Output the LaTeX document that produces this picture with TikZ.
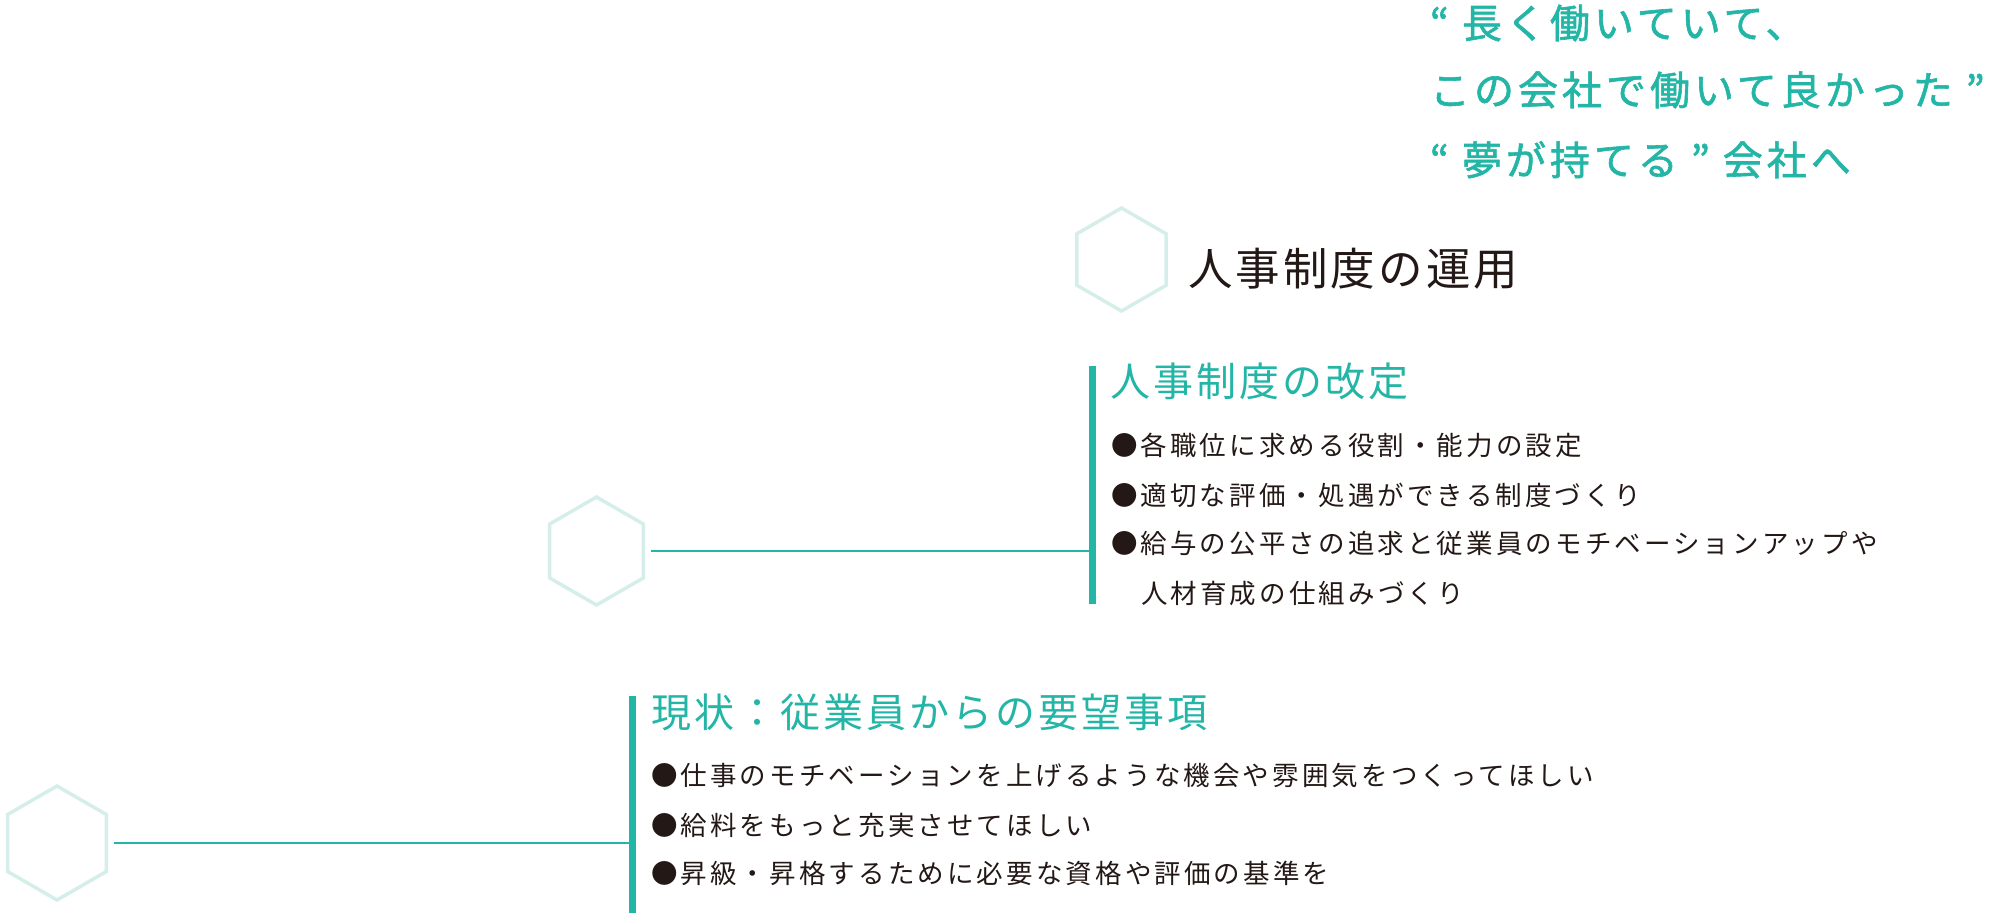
\documentclass[tikz,border=0pt]{standalone}
\usepackage{fontspec}
\usetikzlibrary{shapes.geometric}
\newfontfamily\jpQ[LetterSpace=10,FakeBold=1.5]{Noto Sans CJK JP}
\newfontfamily\jpH[LetterSpace=7.5]{Noto Sans CJK JP}
\newfontfamily\jpT[LetterSpace=7]{Noto Sans CJK JP}
\newfontfamily\jpB[LetterSpace=11.8]{Noto Sans CJK JP}
\definecolor{teal1}{RGB}{35,181,166}
\definecolor{mint}{RGB}{213,238,234}
\definecolor{ink}{RGB}{35,24,21}
\begin{document}
\begin{tikzpicture}[x=1pt,y=-1pt,
  hexa/.style={draw=mint, line width=3.5pt, shape=regular polygon, regular polygon sides=6, regular polygon rotate=30, inner sep=0pt, outer sep=0pt},
  txt/.style={anchor=base west, inner sep=0pt, outer sep=0pt},
  quotetxt/.style={txt, text=teal1, font=\jpQ\fontsize{40}{40}\selectfont},
  headtxt/.style={txt, text=teal1, font=\jpH\fontsize{40}{40}\selectfont},
  titletxt/.style={txt, text=ink, font=\jpT\fontsize{44.5}{44.5}\selectfont},
  bultxt/.style={txt, text=ink, font=\jpB\fontsize{26.5}{26.5}\selectfont},
  bar/.style={fill=teal1, draw=none, inner sep=0pt, outer sep=0pt, minimum width=7pt, anchor=north west},
  conn/.style={draw=teal1, line width=1.5pt}
]
\useasboundingbox (0,0) rectangle (1999,913);

% quote
\node[quotetxt] (q1) at (1430,38) {“ 長く働いていて、};
\node[quotetxt] (q2) at (1430,105) {この会社で働いて良かった ”};
\node[quotetxt] (q3) at (1430,175) {“ 夢が持てる ” 会社へ};

% top hexagon + title
\node[hexa, minimum size=103pt] (h1) at (1121.5,259.5) {};
\node[titletxt] (t1) at (1188,285) {人事制度の運用};

% middle section
\node[hexa, minimum size=108pt] (h2) at (596.5,551) {};
\node[bar, minimum height=238pt] (bar2) at (1089,366) {};
\draw[conn] ([xshift=8pt]h2.east) -- (h2.east -| bar2.west);
\node[headtxt] (s2) at (1110,396) {人事制度の改定};
\node[bultxt] (b21) at (1111,455) {●各職位に求める役割・能力の設定};
\node[bultxt] (b22) at (1111,505) {●適切な評価・処遇ができる制度づくり};
\node[bultxt] (b23) at (1111,553) {●給与の公平さの追求と従業員のモチベーションアップや};
\node[bultxt] (b24) at (1141,603) {人材育成の仕組みづくり};

% bottom section
\node[hexa, minimum size=114pt] (h3) at (57,843) {};
\node[bar, minimum height=217pt] (bar3) at (629,696) {};
\draw[conn] ([xshift=8pt]h3.east) -- (h3.east -| bar3.west);
\node[headtxt] (s3) at (651,727) {現状：従業員からの要望事項};
\node[bultxt] (b31) at (651,785) {●仕事のモチベーションを上げるような機会や雰囲気をつくってほしい};
\node[bultxt] (b32) at (651,835) {●給料をもっと充実させてほしい};
\node[bultxt] (b33) at (651,883) {●昇級・昇格するために必要な資格や評価の基準を};
\end{tikzpicture}
\end{document}
